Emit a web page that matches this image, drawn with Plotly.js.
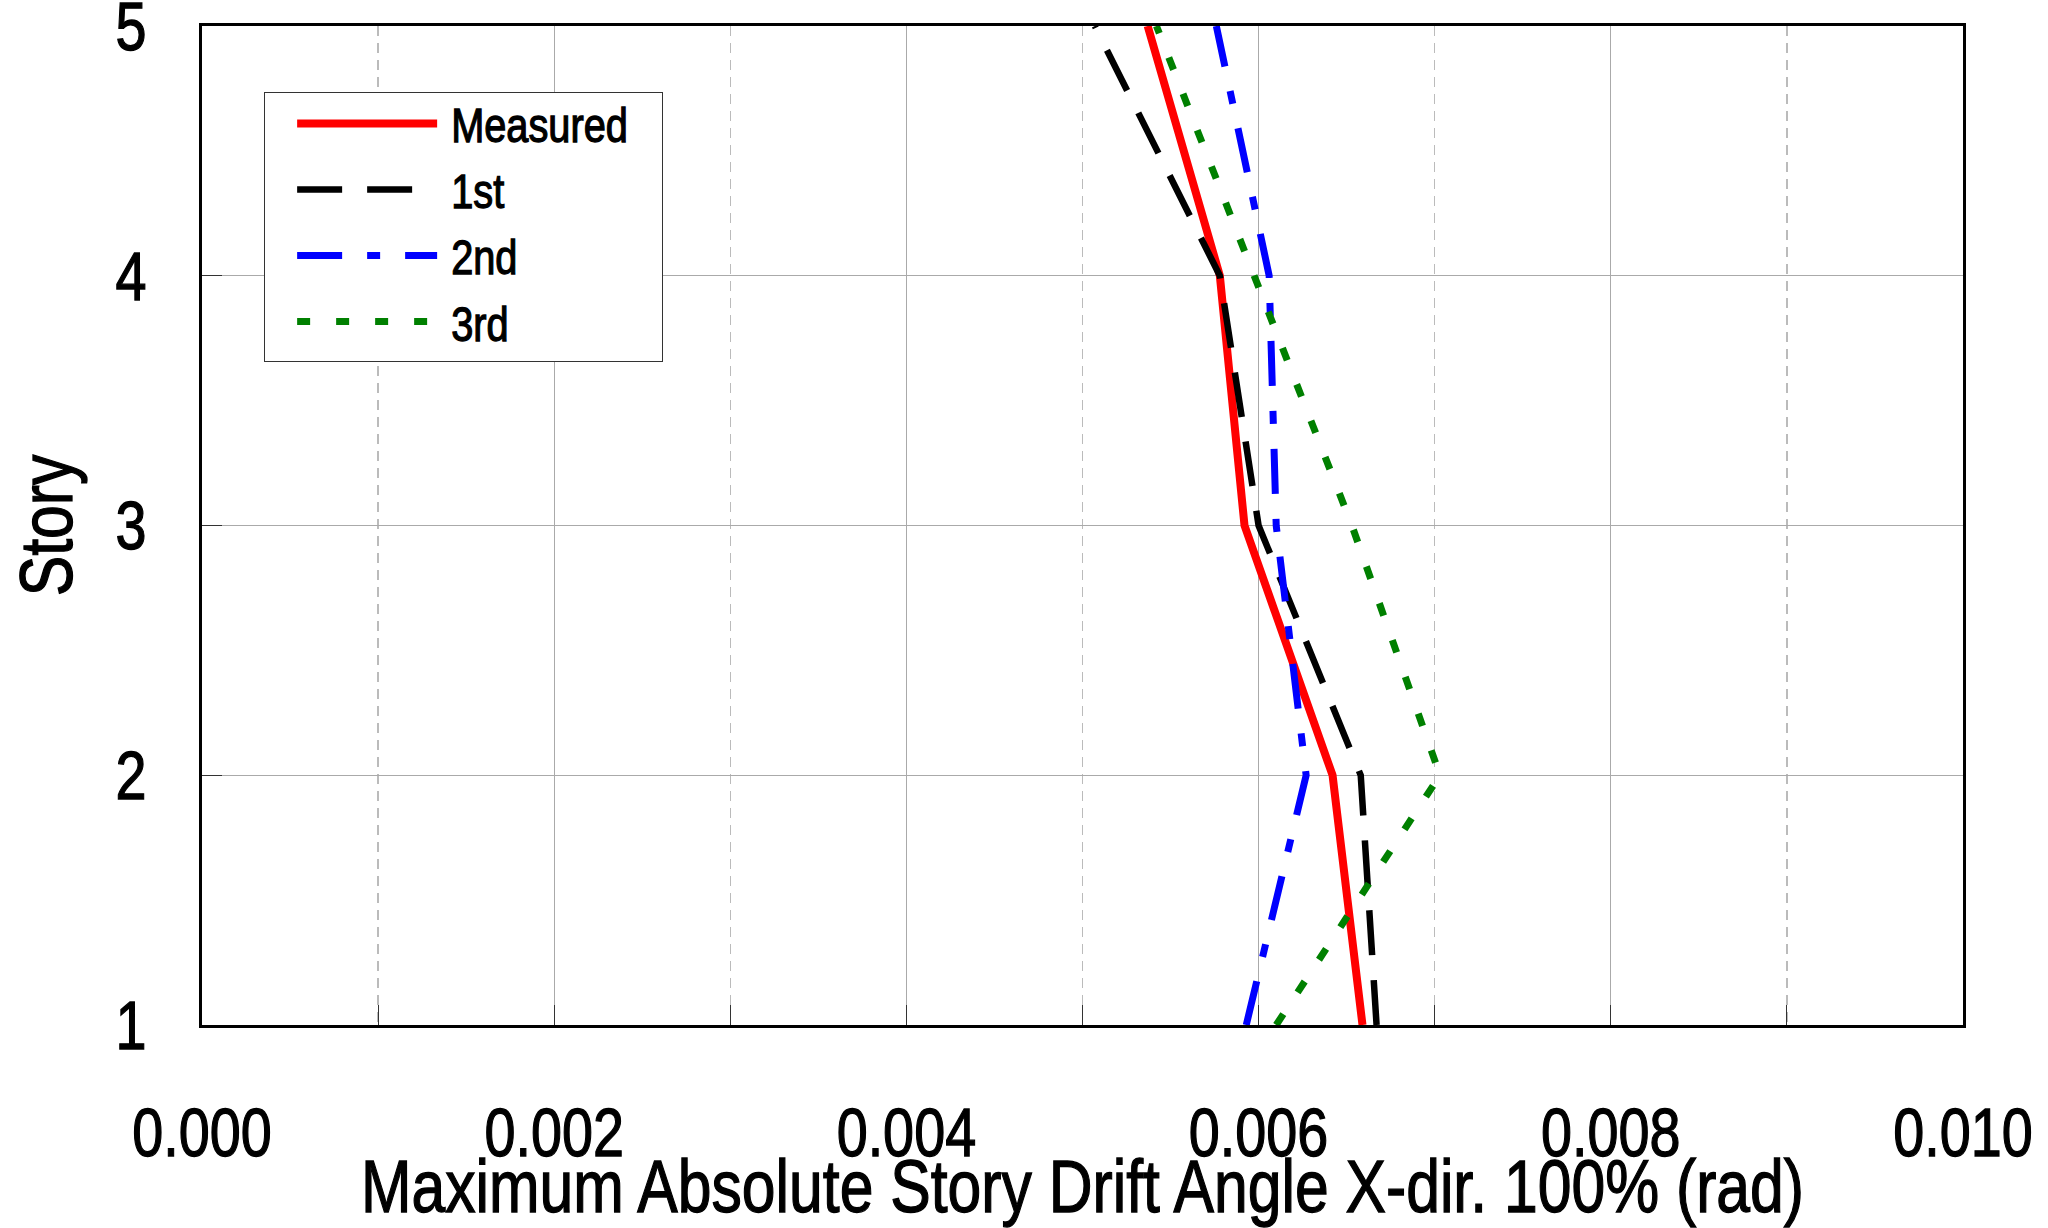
<!DOCTYPE html>
<html>
<head>
<meta charset="utf-8">
<script src="https://cdn.plot.ly/plotly-3.0.1.min.js"></script>
<style>
html,body{margin:0;padding:0;background:#fff;}
#chart{width:2048px;height:1228px;}
#chart svg text{stroke:#000;stroke-width:1.3px;}
</style>
</head>
<body>
<div id="chart"></div>
<script>
const stories = [1, 2, 3, 4, 5];
const measured = [0.00659, 0.00642, 0.00592, 0.00578, 0.00537];
const first = [0.00667, 0.00658, 0.00600, 0.00578, 0.00507];
const second = [0.00593, 0.00627, 0.00610, 0.00606, 0.00576];
const third = [0.00610, 0.00703, 0.00653, 0.00598, 0.00542];
const seriesNames = ['Measured', '1st', '2nd', '3rd'];
const xTickVals = [0, 0.002, 0.004, 0.006, 0.008, 0.010];
const xTickText = ['0.000', '0.002', '0.004', '0.006', '0.008', '0.010'];
const yTickVals = [1, 2, 3, 4, 5];

const FONT = '"Liberation Sans", Arial, sans-serif';
const NARROW = 0.82; // horizontal squeeze to imitate a narrow face

const traces = [
  {x: measured, y: stories, name: seriesNames[0], mode: 'lines', line: {color: '#ff0000', width: 8}},
  {x: first, y: stories, name: seriesNames[1], mode: 'lines', line: {color: '#000000', width: 6.5, dash: '45px,25px'}},
  {x: second, y: stories, name: seriesNames[2], mode: 'lines', line: {color: '#0000ff', width: 7, dash: '45px,25px,13px,25px'}},
  {x: third, y: stories, name: seriesNames[3], mode: 'lines', line: {color: '#008000', width: 7, dash: '13px,26px'}}
];

const layout = {
  width: 2048, height: 1228,
  margin: {l: 202, r: 85, t: 26, b: 203},
  paper_bgcolor: '#fff', plot_bgcolor: '#fff',
  font: {family: FONT, color: '#000'},
  showlegend: true,
  legend: {
    x: 0.035, y: 0.934, xanchor: 'left', yanchor: 'top',
    bgcolor: '#fff', bordercolor: '#333', borderwidth: 1.5,
    font: {family: FONT, size: 48.5, color: '#000'},
    itemwidth: 140
  },
  xaxis: {
    range: [0, 0.0100001], tickvals: xTickVals, ticktext: xTickText,
    tickfont: {family: FONT, size: 68},
    ticklabelstandoff: 46, ticklabeloverflow: 'allow',
    ticks: 'inside', ticklen: 20, tickcolor: '#333', tickwidth: 1,
    showgrid: true, gridcolor: '#aaaaaa', gridwidth: 1.3,
    minor: {dtick: 0.001, tick0: 0, showgrid: true, gridcolor: '#bbbbbb', griddash: '10px,7px', gridwidth: 1.3, ticks: 'inside', ticklen: 20, tickcolor: '#333'},
    showline: true, linecolor: '#000', linewidth: 3, mirror: true,
    zeroline: false, automargin: false,
    title: {text: 'Maximum Absolute Story Drift Angle X-dir. 100% (rad)', font: {family: FONT, size: 74}}
  },
  yaxis: {
    range: [1, 5.00001], tickvals: yTickVals,
    tickfont: {family: FONT, size: 68},
    ticklabelstandoff: 39, ticklabeloverflow: 'allow',
    ticks: 'inside', ticklen: 20, tickcolor: '#333', tickwidth: 1,
    showgrid: true, gridcolor: '#aaaaaa', gridwidth: 1.3,
    showline: true, linecolor: '#000', linewidth: 3, mirror: true,
    zeroline: false, automargin: false,
    title: {text: 'Story', font: {family: FONT, size: 74}}
  }
};

function shiftTitles(gd) {
  const yt = gd.querySelector('g.g-ytitle text');
  if (yt) yt.setAttribute('transform', 'translate(5,0) ' + (yt.getAttribute('transform') || ''));
}

function condenseText(gd) {
  gd.querySelectorAll('svg text').forEach(function (t) {
    const x = parseFloat(t.getAttribute('x')) || 0;
    const y = parseFloat(t.getAttribute('y')) || 0;
    const tr = t.getAttribute('transform') || '';
    t.setAttribute('transform', tr + ' translate(' + x + ',' + y + ') scale(' + NARROW + ',1) translate(' + (-x) + ',' + (-y) + ')');
  });
}

function adjustLegend(gd) {
  const leg = gd.querySelector('g.legend');
  if (!leg) return;
  const dx = 27, dy = -8, textDx = 9;
  leg.querySelectorAll('g.traces').forEach(function (g) {
    const tr = g.getAttribute('transform') || 'translate(0,0)';
    const m = /translate\(\s*([-\d.e]+)[\s,]*([-\d.e]+)?\s*\)/.exec(tr);
    const tx = m ? parseFloat(m[1]) : 0;
    const ty = m && m[2] ? parseFloat(m[2]) : 0;
    g.setAttribute('transform', 'translate(' + (tx + dx) + ',' + (ty + dy) + ')');
    const txt = g.querySelector('text.legendtext');
    if (txt) txt.setAttribute('x', (parseFloat(txt.getAttribute('x')) || 0) + textDx);
  });
  const bg = leg.querySelector('rect.bg');
  if (bg) { bg.setAttribute('width', 398); bg.setAttribute('height', 269); }
  leg.querySelectorAll('clipPath rect, rect.scrollbox').forEach(function (r) { r.setAttribute('width', 398); r.setAttribute('height', 269); });
}

Plotly.newPlot('chart', traces, layout, {displayModeBar: false, staticPlot: true}).then(function (gd) {
  adjustLegend(gd);
  shiftTitles(gd);
  condenseText(gd);
});
</script>
</body>
</html>
